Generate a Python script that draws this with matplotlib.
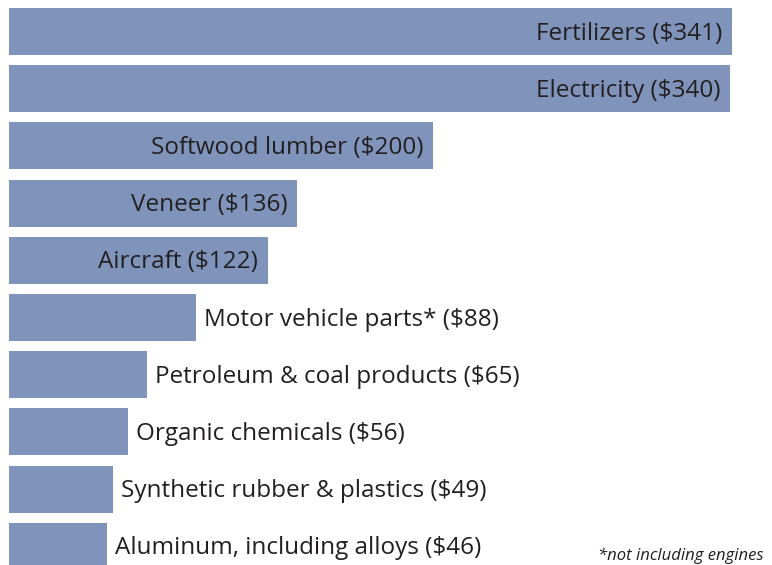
import matplotlib.pyplot as plt

categories = [
    "Fertilizers",
    "Electricity",
    "Softwood lumber",
    "Veneer",
    "Aircraft",
    "Motor vehicle parts*",
    "Petroleum & coal products",
    "Organic chemicals",
    "Synthetic rubber & plastics",
    "Aluminum, including alloys",
]
values = [341, 340, 200, 136, 122, 88, 65, 56, 49, 46]
inside = [True, True, True, True, True, False, False, False, False, False]

BAR_COLOR = "#7f93bb"
TEXT_COLOR = "#231f20"

plt.rcParams["font.family"] = ["Open Sans", "DejaVu Sans"]

fig = plt.figure(figsize=(7.72, 5.65), dpi=100)
ax = fig.add_axes([9 / 772, 0, 763 / 772, 1])

pos = list(range(len(values)))
ax.barh(pos, values, height=0.82, color=BAR_COLOR)

for y, cat, val, ins in zip(pos, categories, values, inside):
    label = f"{cat} (${val})"
    if ins:
        ax.annotate(label, (val, y), xytext=(-7, -1.5), textcoords="offset points",
                    ha="right", va="center", fontsize=17.5, color=TEXT_COLOR)
    else:
        ax.annotate(label, (val, y), xytext=(6, -1.5), textcoords="offset points",
                    ha="left", va="center", fontsize=17.5, color=TEXT_COLOR)

ax.set_xlim(0, 359.9)
ax.set_ylim(9.327, -0.551)
ax.axis("off")

fig.text(598 / 772, 1 / 565, "*not including engines", fontsize=12,
         style="italic", color=TEXT_COLOR, ha="left", va="bottom")

fig.savefig("out.png", dpi=100)
